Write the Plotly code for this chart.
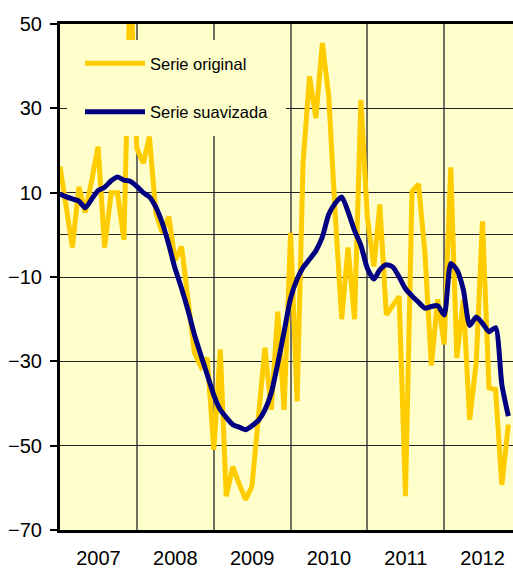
import pandas as pd
import plotly.graph_objects as go

# ---- data ----
start_month = "2007-01-01"
n_months = 71
months = pd.date_range(start_month, periods=n_months, freq="MS")

serie_original = [
    16.2, 6.6, -3.0, 11.4, 5.3, 13.0, 20.9, -3.0, 10.0, 10.0, -1.2, 62.0,
    20.5, 17.0, 23.3, 5.0, 0.5, 4.3, -6.0, -2.8, -15.0, -28.0, -31.3, -29.2,
    -51.0, -27.2, -62.0, -55.0, -59.0, -62.8, -59.7, -42.0, -26.8, -41.5, -18.2, -41.5,
    0.5, -39.5, 17.0, 37.6, 27.7, 45.5, 33.0, 5.0, -20.0, -3.0, -20.0, 32.0,
    4.0, -7.5, 7.2, -19.0, -17.0, -14.6, -62.0, 10.3, 12.0, -4.0, -31.0, -15.3,
    -26.0, 16.0, -29.2, -15.4, -43.9, -30.4, 3.2, -36.3, -36.7, -59.3, -45.0,
]
serie_suavizada = [
    9.7, 9.0, 8.5, 8.0, 6.4, 8.5, 10.5, 11.3, 12.8, 13.7, 13.0, 12.7,
    11.5, 10.0, 9.0, 6.5, 2.8, -2.3, -8.0, -12.7, -18.0, -23.7, -28.6, -33.2,
    -38.0, -41.5, -43.3, -45.0, -45.6, -46.2, -45.3, -44.0, -41.5, -37.5, -30.5, -23.0,
    -15.0, -10.5, -7.8, -5.8, -3.8, -0.5, 4.8, 7.5, 9.0, 5.5, 1.0, -2.5,
    -8.0, -10.5, -8.3, -7.1, -7.6, -10.0, -12.8, -14.5, -16.0, -17.4, -17.0, -16.8,
    -19.0, -6.8, -8.3, -13.0, -21.5, -19.5, -21.0, -23.0, -22.0, -35.5, -43.0,
]
y_ticks = [-70, -50, -30, -10, 10, 30, 50]
names = ["Serie original", "Serie suavizada"]

# ---- styling ----
FONT = "Liberation Sans, Arial, sans-serif"
BG = "#FFFFCC"
YELLOW = "#FFCC00"
NAVY = "#000080"

fig = go.Figure()
fig.add_trace(go.Scatter(x=months, y=serie_original, mode="lines", name=names[0],
                         legendgroup="a",
                         line=dict(color=YELLOW, width=5)))
fig.add_trace(go.Scatter(x=months, y=serie_suavizada, mode="lines", name=names[1],
                         legendgroup="b",
                         line=dict(color=NAVY, width=5, shape="spline", smoothing=0.6)))

L, T, B = 60, 24, 40
W, H = 513, 570
pw, ph = W - L, H - T - B

def px2paper_x(p):
    return (p - L) / pw

def px2paper_y(p):
    return (H - B - p) / ph

fig.add_shape(type="rect", xref="paper", yref="paper",
              x0=px2paper_x(67), x1=px2paper_x(286),
              y0=px2paper_y(136), y1=px2paper_y(40),
              fillcolor=BG, line=dict(width=0), layer="above")

fig.update_layout(
    width=W, height=H,
    margin=dict(l=L, r=0, t=T, b=B),
    paper_bgcolor="white", plot_bgcolor=BG,
    font=dict(family=FONT, color="black", size=20),
    showlegend=True,
    legend=dict(x=px2paper_x(80), y=px2paper_y(46), xanchor="left", yanchor="top",
                bgcolor="rgba(0,0,0,0)", borderwidth=0,
                font=dict(family=FONT, size=16.5, color="black"),
                traceorder="grouped", tracegroupgap=24, itemwidth=60),
)
fig.update_xaxes(
    type="date",
    range=["2007-01-01", "2012-11-23"],
    tick0="2007-01-01", dtick="M12", tickformat="%Y",
    ticklabelmode="period", ticks="",
    showgrid=True, gridcolor="#6f6f62", gridwidth=2,
    showline=True, linecolor="black", linewidth=3, mirror=True,
    tickfont=dict(size=20), ticklabelstandoff=8,
    zeroline=False,
)
fig.update_yaxes(
    range=[-70, 50], tickvals=y_ticks,
    ticks="outside", ticklen=7, tickwidth=1.5, tickcolor="black",
    showgrid=True, gridcolor="#222222", gridwidth=1.3,
    zeroline=True, zerolinecolor="#222222", zerolinewidth=1.3,
    showline=True, linecolor="black", linewidth=3,
    tickfont=dict(size=20), ticklabelstandoff=4,
)

fig.write_html(
    "out.html",
    config={"displayModeBar": False},
    post_script="document.body.style.margin='0';document.body.style.overflow='hidden';",
)
